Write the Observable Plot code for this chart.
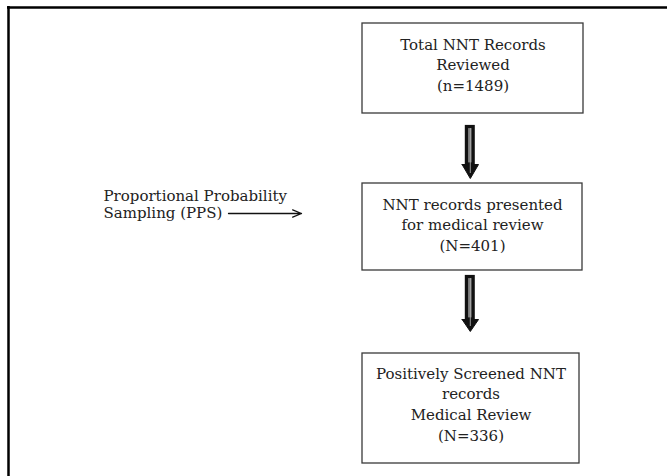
<!DOCTYPE html>
<html>
<head>
<meta charset="utf-8">
<script src="https://cdn.jsdelivr.net/npm/d3@7"></script>
<script src="https://cdn.jsdelivr.net/npm/@observablehq/plot@0.6"></script>
<style>
  html, body { margin: 0; padding: 0; background: #fff; }
  #chart svg { display: block; }
</style>
</head>
<body>
<div id="chart"></div>
<script>
// ---- data ----
const stepLabels = [
  "Total NNT Records\nReviewed",
  "NNT records presented\nfor medical review",
  "Positively Screened NNT\nrecords\nMedical Review"
];
const stepCounts = ["(n=1489)", "(N=401)", "(N=336)"];
const sideLabel = "Proportional Probability\nSampling (PPS)";

// ---- layout (pixel space) ----
const W = 667, H = 476;
const FS = 15;
const boxLayout = [
  {x1: 362, x2: 583, y1: 23,  y2: 113, ty: 63.2},
  {x1: 362, x2: 582, y1: 183, y2: 270, ty: 223.2},
  {x1: 362, x2: 579, y1: 353, y2: 463, ty: 402.7}
];
const boxes = stepLabels.map((s, i) => ({
  ...boxLayout[i],
  text: s + "\n" + stepCounts[i],
  cx: (boxLayout[i].x1 + boxLayout[i].x2) / 2
}));

// block arrows between consecutive boxes
const ax = 469.8;
const arrowLayout = [
  {top: 125, headTop: 164, tip: 178},
  {top: 275, headTop: 319, tip: 331}
];
const shafts = arrowLayout.map(a => ({x1: ax - 3.4, x2: ax + 3.4, y1: a.top + 1.5, y2: a.headTop}));
const heads = arrowLayout.flatMap((a, i) => [
  {id: i, x: ax - 8.2, y: a.headTop},
  {id: i, x: ax + 8.2, y: a.headTop},
  {id: i, x: ax, y: a.tip},
  {id: i, x: ax - 8.2, y: a.headTop}
]);
const inner = arrowLayout.map(a => ({y1: a.top + 3, y2: a.tip - 5}));

const font = "'DejaVu Serif', serif";

const chart = Plot.plot({
  width: W,
  height: H,
  margin: 0,
  x: {domain: [0, W], range: [0, W], axis: null},
  y: {domain: [0, H], range: [0, H], axis: null},
  style: {background: "#fff", fontFamily: font},
  marks: [
    // outer frame (top and left edges)
    Plot.ruleY([7], {x1: 7, x2: W, stroke: "#000", strokeWidth: 2.5}),
    Plot.ruleX([8], {y1: 6, y2: H, stroke: "#000", strokeWidth: 2.5}),
    // boxes
    Plot.rect(boxes, {x1: "x1", x2: "x2", y1: "y1", y2: "y2", fill: "#fff", stroke: "#3a3a3a", strokeWidth: 1.3}),
    Plot.text(boxes, {x: "cx", y: "ty", text: "text", fontSize: FS, lineHeight: 20.6 / FS, fill: "#222", fontFamily: font, textAnchor: "middle", lineAnchor: "middle"}),
    // block arrows
    Plot.rect(shafts, {x1: "x1", x2: "x2", y1: "y1", y2: "y2", fill: "#777", stroke: "#111", strokeWidth: 3.2}),
    Plot.line(heads, {x: "x", y: "y", z: "id", fill: "#111", stroke: "#111", strokeWidth: 1}),
    Plot.ruleX(inner, {x: ax, y1: "y1", y2: "y2", stroke: "#bbb", strokeWidth: 0.8}),
    // side label and thin arrow
    Plot.text([sideLabel], {x: 103, y: 203.5, text: d => d, textAnchor: "start", lineAnchor: "middle", fontSize: FS, lineHeight: 17 / FS, fill: "#222", fontFamily: font}),
    Plot.arrow([{x1: 228, y1: 213, x2: 301, y2: 213}], {x1: "x1", y1: "y1", x2: "x2", y2: "y2", bend: 0, headLength: 11, headAngle: 45, stroke: "#111", strokeWidth: 1.3})
  ]
});
document.getElementById("chart").append(chart);
</script>
</body>
</html>
